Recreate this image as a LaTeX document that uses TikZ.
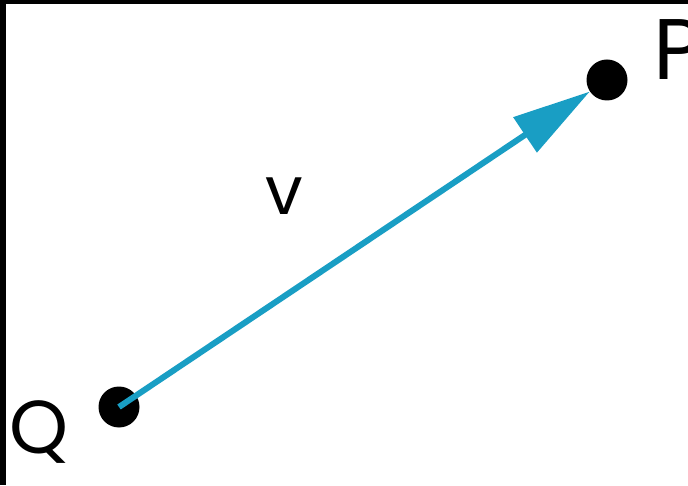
\documentclass[tikz,border=0pt]{standalone}
\usepackage{fontspec}
\setmainfont{Poppins}
\usetikzlibrary{arrows.meta}
\definecolor{vecblue}{RGB}{25,158,196}
\tikzset{
  dot/.style={circle, fill=black, minimum size=41pt, inner sep=0pt},
  lbl/.style={inner sep=0pt, text=black},
  vec/.style={draw=vecblue, line width=6pt, -{Triangle[length=78pt,width=41pt]}}
}
\begin{document}
\begin{tikzpicture}[x=1pt,y=1pt]
\useasboundingbox (0,0) rectangle (688,485);
\fill[white] (0,0) rectangle (688,485);
\fill[black] (0,0) rectangle (6,485);
\fill[black] (0,481) rectangle (688,485);
\node[dot] (Q) at (119,78) {};
\node[dot] (P) at (607,405) {};
\draw[vec] (Q.center) -- (P);
\node[lbl, anchor=base west, font=\fontsize{86}{90}\selectfont] (pl) at (653,405) {P};
\node[lbl, font=\fontsize{75}{80}\selectfont] (ql) at (39,53) {Q};
\node[lbl, font=\fontsize{67}{70}\selectfont] (vl) at (284,289) {v};
\end{tikzpicture}
\end{document}
